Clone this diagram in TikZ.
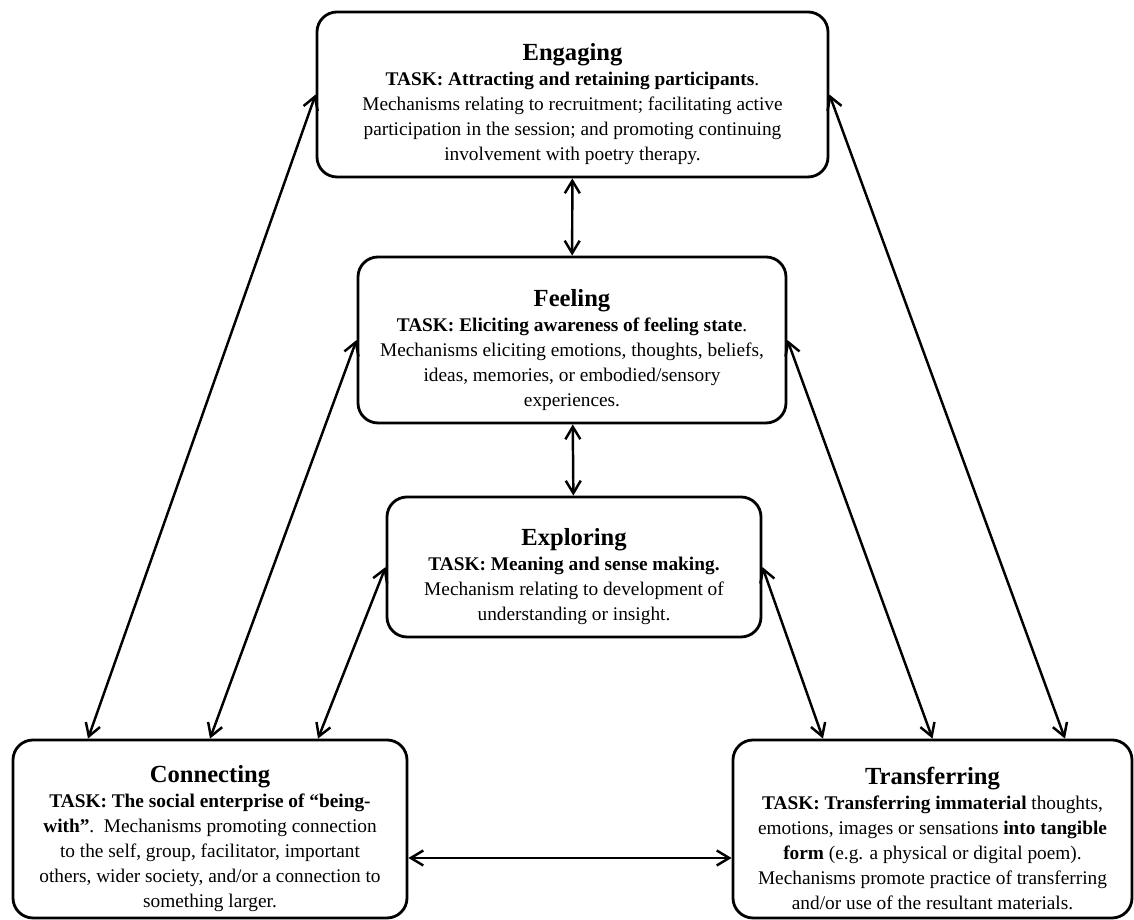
\documentclass[tikz,border=0pt]{standalone}
\usepackage{fontspec}
\setmainfont{Liberation Serif}
\usetikzlibrary{arrows.meta}

\newcommand{\stagename}[1]{{\rule{0pt}{21pt}\fontsize{14}{14.2}\selectfont\bfseries #1}}

\begin{document}
\begin{tikzpicture}
  \tikzstyle{stage} = [draw=black, line width=1.6pt, rounded corners=0.4cm, align=center, inner sep=0pt, font=\fontsize{11}{14.2}\selectfont]
  \tikzstyle{link} = [{Straight Barb[length=2.5mm,width=3mm]}-{Straight Barb[length=2.5mm,width=3mm]}, line width=1.4pt]

  \useasboundingbox (0,0) rectangle (22.68,18.4);

  \node[stage, minimum width=10.22cm, minimum height=3.3cm] (eng) at (11.45,16.51) {\stagename{Engaging}\\
    \textbf{TASK: Attracting and retaining participants}.\\
    Mechanisms relating to recruitment; facilitating active\\
    participation in the session; and promoting continuing\\
    involvement with poetry therapy.};
  \node[stage, minimum width=8.56cm, minimum height=3.32cm] (feel) at (11.44,11.6) {\stagename{Feeling}\\
    \textbf{TASK: Eliciting awareness of feeling state}.\\
    Mechanisms eliciting emotions, thoughts, beliefs,\\
    ideas, memories, or embodied/sensory\\
    experiences.};
  \node[stage, minimum width=7.48cm, minimum height=2.8cm] (expl) at (11.48,7.06) {\stagename{Exploring}\\
    \textbf{TASK: Meaning and sense making.}\\
    Mechanism relating to development of\\
    understanding or insight.};
  \node[stage, minimum width=7.88cm, minimum height=3.56cm] (conn) at (4.2,1.82) {\stagename{Connecting}\\
    \textbf{TASK: The social enterprise of ``being-}\\
    \textbf{with''}.\ \ Mechanisms promoting connection\\
    to the self, group, facilitator, important\\
    others, wider society, and/or a connection to\\
    something larger.};
  \node[stage, minimum width=7.98cm, minimum height=3.56cm] (trans) at (18.65,1.82) {\stagename{Transferring}\\
    \textbf{TASK: Transferring immaterial} thoughts,\\
    emotions, images or sensations \textbf{into tangible}\\
    \textbf{form} (e.g. a physical or digital poem).\\
    Mechanisms promote practice of transferring\\
    and/or use of the resultant materials.};

  \draw[link] (eng) -- (feel);
  \draw[link] (feel) -- (expl);

  \draw[link] (eng.west) -- ([xshift=-2.44cm]conn.north);
  \draw[link] (feel.west) -- (conn.north);
  \draw[link] (expl.west) -- ([xshift=2.16cm]conn.north);

  \draw[link] (expl.east) -- ([xshift=-2.19cm]trans.north);
  \draw[link] (feel.east) -- (trans.north);
  \draw[link] (eng.east) -- ([xshift=2.65cm]trans.north);

  \draw[link] ([yshift=-0.58cm]conn.east) -- ([yshift=-0.58cm]trans.west);
\end{tikzpicture}
\end{document}
